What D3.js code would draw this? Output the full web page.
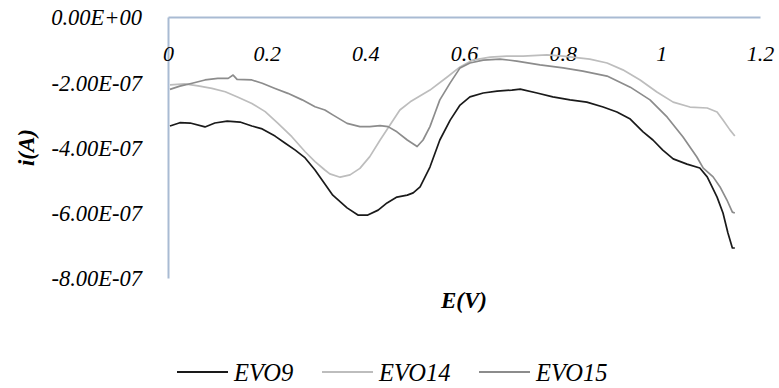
<!DOCTYPE html>
<html>
<head>
<meta charset="utf-8">
<script src="https://cdn.jsdelivr.net/npm/d3@7"></script>
<style>
  html, body { margin: 0; padding: 0; background: #fff; }
  svg { display: block; }
  text { font-family: "Liberation Serif", serif; font-style: italic; fill: #000; }
</style>
</head>
<body>
<svg id="chart" width="779" height="388"></svg>
<script>
// Potential (V) and current (units of 1e-7 A) for each electrode
const evo9E = [0.004,0.024,0.045,0.075,0.095,0.120,0.146,0.170,0.191,0.217,0.237,0.258,0.278,0.298,0.318,0.334,0.363,0.385,0.405,0.426,0.444,0.464,0.485,0.497,0.511,0.531,0.551,0.572,0.592,0.612,0.639,0.667,0.697,0.714,0.748,0.780,0.815,0.849,0.882,0.910,0.937,0.963,0.983,1.003,1.024,1.052,1.078,1.093,1.113,1.125,1.135,1.144,1.149];
const evo9I = [-3.34,-3.24,-3.25,-3.37,-3.25,-3.19,-3.22,-3.34,-3.43,-3.65,-3.86,-4.08,-4.32,-4.69,-5.12,-5.46,-5.85,-6.07,-6.07,-5.92,-5.70,-5.52,-5.46,-5.39,-5.21,-4.60,-3.77,-3.16,-2.70,-2.45,-2.33,-2.27,-2.24,-2.21,-2.33,-2.45,-2.54,-2.61,-2.76,-2.91,-3.13,-3.52,-3.77,-4.08,-4.35,-4.51,-4.63,-4.90,-5.52,-6.01,-6.62,-7.08,-7.08];

const evo14E = [0.004,0.034,0.061,0.089,0.116,0.142,0.170,0.197,0.223,0.251,0.278,0.298,0.318,0.328,0.349,0.369,0.389,0.409,0.430,0.450,0.470,0.491,0.531,0.566,0.592,0.618,0.653,0.687,0.720,0.768,0.801,0.855,0.890,0.922,0.957,0.991,1.024,1.058,1.093,1.113,1.125,1.139,1.149];
const evo14I = [-2.08,-2.05,-2.11,-2.19,-2.29,-2.46,-2.65,-2.90,-3.26,-3.67,-4.13,-4.43,-4.69,-4.81,-4.91,-4.84,-4.64,-4.28,-3.77,-3.31,-2.85,-2.60,-2.24,-1.84,-1.53,-1.32,-1.23,-1.20,-1.20,-1.16,-1.20,-1.29,-1.41,-1.62,-1.93,-2.30,-2.61,-2.76,-2.79,-2.91,-3.16,-3.46,-3.65];

const evo15E = [0.004,0.024,0.049,0.075,0.101,0.122,0.132,0.140,0.170,0.191,0.217,0.243,0.272,0.298,0.318,0.334,0.363,0.389,0.409,0.430,0.446,0.464,0.485,0.505,0.517,0.531,0.541,0.551,0.572,0.592,0.612,0.639,0.673,0.707,0.754,0.801,0.841,0.890,0.937,0.977,1.012,1.044,1.072,1.085,1.105,1.119,1.133,1.144,1.149];
const evo15I = [-2.22,-2.12,-2.03,-1.93,-1.88,-1.88,-1.78,-1.91,-1.93,-2.03,-2.19,-2.34,-2.54,-2.75,-2.85,-3.00,-3.26,-3.36,-3.36,-3.33,-3.36,-3.52,-3.77,-3.97,-3.77,-3.36,-2.95,-2.54,-2.02,-1.56,-1.41,-1.32,-1.29,-1.35,-1.47,-1.56,-1.66,-1.81,-2.15,-2.54,-3.07,-3.68,-4.29,-4.63,-4.90,-5.21,-5.61,-5.98,-6.01];

const seriesNames = ["EVO9", "EVO14", "EVO15"];
const seriesColors = ["#1a1a1a", "#bdbdbd", "#8c8c8c"];

const xTicks = [0, 0.2, 0.4, 0.6, 0.8, 1, 1.2];
const xTickLabels = ["0", "0.2", "0.4", "0.6", "0.8", "1", "1.2"];
const yTicks = [0, -2, -4, -6, -8];
const yTickLabels = ["0.00E+00", "-2.00E-07", "-4.00E-07", "-6.00E-07", "-8.00E-07"];

const svg = d3.select("#chart");

const x = d3.scaleLinear().domain([0, 1.2]).range([168, 760]);
const y = d3.scaleLinear().domain([0, -8]).range([17, 278]);

const axisColor = "#a9bbd3";

// Value axis on the left
const yAxis = svg.append("g")
  .attr("transform", `translate(${x(0)},0)`)
  .call(d3.axisLeft(y).tickValues(yTicks).tickSize(0).tickFormat((d, i) => yTickLabels[i]));
yAxis.attr("font-family", null).attr("font-size", null);
yAxis.select(".domain").attr("stroke", axisColor).attr("stroke-width", 2);
yAxis.selectAll("text")
  .attr("x", -26).attr("dy", "0.35em")
  .style("font-size", "22.5px")
  .attr("fill", "#000");

// Potential axis along the zero-current line, labels below it
const xAxis = svg.append("g")
  .attr("transform", `translate(0,${y(0)})`)
  .call(d3.axisBottom(x).tickValues(xTicks).tickSize(0).tickFormat((d, i) => xTickLabels[i]));
xAxis.attr("font-family", null).attr("font-size", null);
xAxis.select(".domain").attr("stroke", axisColor).attr("stroke-width", 2);
xAxis.selectAll("text")
  .attr("y", 36).attr("dy", "0.35em")
  .style("font-size", "22px")
  .attr("fill", "#000");

// Curves
const line = d3.line().x(d => x(d[0])).y(d => y(d[1]));
const series = [
  d3.zip(evo9E, evo9I),
  d3.zip(evo14E, evo14I),
  d3.zip(evo15E, evo15I)
];
// draw light curves first so the black one stays on top
[1, 2, 0].forEach(k => {
  svg.append("path")
    .datum(series[k])
    .attr("fill", "none")
    .attr("stroke", seriesColors[k])
    .attr("stroke-width", 1.7)
    .attr("stroke-linejoin", "round")
    .attr("d", line);
});

// Axis titles
svg.append("text")
  .attr("x", (x(0) + x(1.2)) / 2).attr("y", 300).attr("dy", "0.35em")
  .attr("text-anchor", "middle")
  .style("font-size", "23px").style("font-weight", "bold")
  .text("E(V)");

svg.append("text")
  .attr("transform", `translate(26,${(y(0) + y(-8)) / 2}) rotate(-90)`)
  .attr("text-anchor", "middle").attr("dy", "0.35em")
  .style("font-size", "23px").style("font-weight", "bold")
  .text("i(A)");

// Legend
const legendX = [177, 322, 479];
const legend = svg.append("g");
seriesNames.forEach((name, k) => {
  legend.append("line")
    .attr("x1", legendX[k]).attr("x2", legendX[k] + 51)
    .attr("y1", 372).attr("y2", 372)
    .attr("stroke", seriesColors[k]).attr("stroke-width", 2);
  legend.append("text")
    .attr("x", legendX[k] + 57).attr("y", 372).attr("dy", "0.35em")
    .style("font-size", "24.5px")
    .text(name);
});
</script>
</body>
</html>
